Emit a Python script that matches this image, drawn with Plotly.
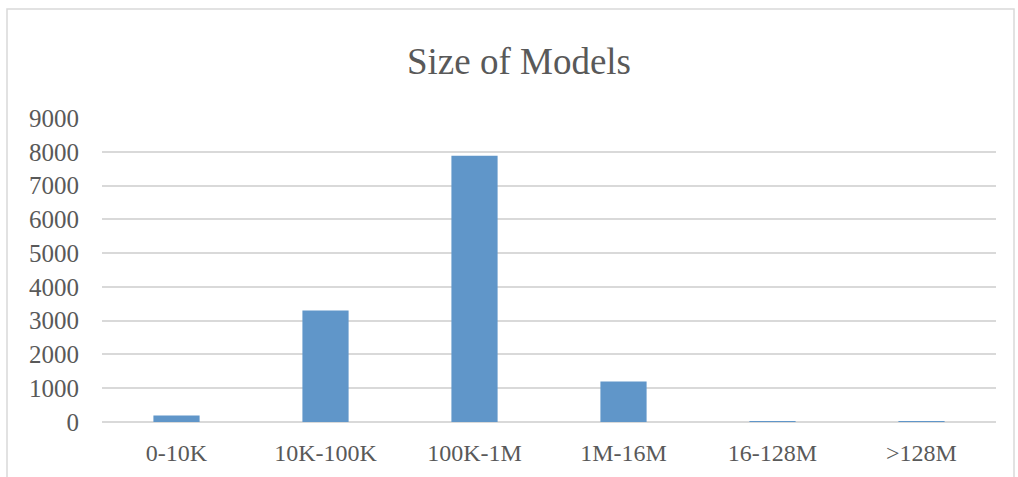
import plotly.graph_objects as go

categories = ["0-10K", "10K-100K", "100K-1M", "1M-16M", "16-128M", ">128M"]
counts = [190, 3300, 7880, 1200, 3, 1]
y_ticks = [0, 1000, 2000, 3000, 4000, 5000, 6000, 7000, 8000, 9000]
title_text = "Size of Models"

W, H = 1018, 477
L, R, T, B = 102, 22, 118, 55
pw, ph = W - L - R, H - T - B

font_family = "Liberation Serif, DejaVu Serif, serif"
text_color = "#595959"
grid_color = "#d9d9d9"

fig = go.Figure(
    go.Bar(
        x=categories,
        y=counts,
        marker=dict(color="#6096C9", line=dict(width=0)),
        hoverinfo="x+y",
    )
)

def px_x(p):
    return (p - L) / pw

def px_y(p):
    return (H - B - p) / ph

fig.update_layout(
    width=W,
    height=H,
    margin=dict(l=L, r=R, t=T, b=B, pad=0),
    paper_bgcolor="white",
    plot_bgcolor="white",
    bargap=0.69,
    showlegend=False,
    font=dict(family=font_family, color=text_color, size=24),
    title=dict(
        text=title_text,
        x=519 / W,
        xanchor="center",
        y=1 - 61 / H,
        yanchor="middle",
        xref="container",
        yref="container",
        font=dict(family=font_family, size=37, color=text_color),
    ),
    xaxis=dict(
        showgrid=False,
        showline=False,
        ticks="",
        ticklabelstandoff=14,
        tickfont=dict(size=24, color=text_color),
    ),
    yaxis=dict(
        range=[0, 9000],
        tickvals=y_ticks,
        ticktext=[str(v) for v in y_ticks],
        showgrid=True,
        gridcolor=grid_color,
        gridwidth=1.5,
        zeroline=True,
        zerolinecolor=grid_color,
        zerolinewidth=1.5,
        showline=False,
        ticks="",
        ticklabelstandoff=22,
        tickfont=dict(size=25, color=text_color),
    ),
    shapes=[
        dict(
            type="rect",
            xref="paper",
            yref="paper",
            x0=px_x(7),
            x1=px_x(1014),
            y0=px_y(490),
            y1=px_y(9),
            line=dict(color=grid_color, width=1.5),
            fillcolor="rgba(0,0,0,0)",
            layer="below",
        )
    ],
)

fig.write_html(
    "out.html",
    config={"displayModeBar": False},
    post_script="document.body.style.margin='0px';document.body.style.overflow='hidden';",
)
